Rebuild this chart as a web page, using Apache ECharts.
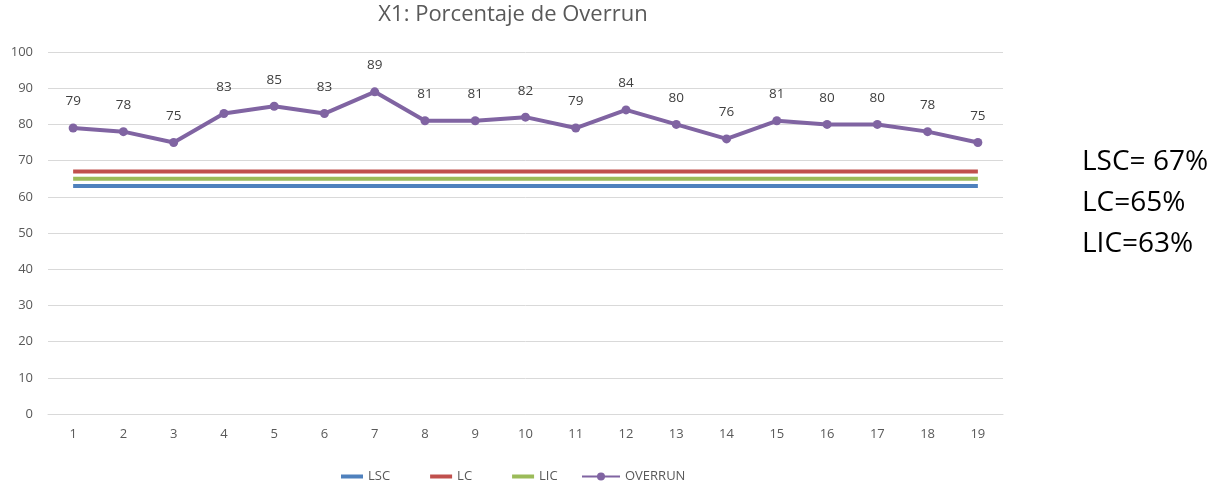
<!DOCTYPE html>
<html>
<head>
<meta charset="utf-8">
<script src="https://cdn.jsdelivr.net/npm/echarts@6/dist/echarts.min.js"></script>
<style>
  html, body { margin: 0; padding: 0; background: #fff; }
  #main { width: 1213px; height: 483px; }
</style>
</head>
<body>
<div id="main"></div>
<script>
const categories = ['1','2','3','4','5','6','7','8','9','10','11','12','13','14','15','16','17','18','19']
const overrun = [79, 78, 75, 83, 85, 83, 89, 81, 81, 82, 79, 84, 80, 76, 81, 80, 80, 78, 75]
const lscValue = 63
const lcValue = 67
const licValue = 65
const sideNotes = ['LSC= 67%', 'LC=65%', 'LIC=63%']

const flat = v => categories.map(() => v)

const chart = echarts.init(document.getElementById('main'))

const limitLine = (name, value, color) => ({
  name,
  type: 'line',
  data: flat(value),
  symbol: 'none',
  showSymbol: false,
  lineStyle: { width: 4, color },
  itemStyle: { color },
  z: 2,
})

const legendText = { fontSize: 13, color: '#595959' }

chart.setOption({
  animation: false,
  textStyle: { fontFamily: 'Open Sans, Calibri, sans-serif' },
  title: {
    text: 'X1: Porcentaje de Overrun',
    left: 508,
    top: -1,
    textAlign: 'center',
    textStyle: { fontSize: 22, fontWeight: 'normal', color: '#595959', fontFamily: 'Open Sans' },
  },
  grid: { left: 48, right: 210, top: 52, bottom: 69, containLabel: false },
  legend: [
    {
      top: 465,
      left: 336,
      itemWidth: 22,
      itemHeight: 4,
      itemGap: 40,
      textStyle: legendText,
      data: [
        { name: 'LSC', icon: 'rect', itemStyle: { color: '#4F81BD' } },
        { name: 'LC', icon: 'rect', itemStyle: { color: '#C0504D' } },
        { name: 'LIC', icon: 'rect', itemStyle: { color: '#9BBB59' } },
      ],
    },
    {
      top: 465,
      left: 576,
      itemWidth: 38,
      itemHeight: 10,
      textStyle: legendText,
      data: ['OVERRUN'],
    },
  ],
  xAxis: {
    type: 'category',
    data: categories,
    boundaryGap: true,
    axisLine: { lineStyle: { color: '#d9d9d9' } },
    axisTick: { show: false },
    axisLabel: { color: '#595959', fontSize: 13, margin: 14 },
  },
  yAxis: {
    type: 'value',
    min: 0,
    max: 100,
    interval: 10,
    axisLine: { show: false },
    axisTick: { show: false },
    axisLabel: { color: '#595959', fontSize: 13, margin: 15 },
    splitLine: { lineStyle: { color: '#d9d9d9' } },
  },
  graphic: sideNotes.map((t, i) => ({
    type: 'text',
    left: 1082,
    top: 148 + i * 41,
    style: { text: t, fontSize: 28, fill: '#000', fontFamily: 'Open Sans' },
  })),
  series: [
    limitLine('LSC', lscValue, '#4F81BD'),
    limitLine('LC', lcValue, '#C0504D'),
    limitLine('LIC', licValue, '#9BBB59'),
    {
      name: 'OVERRUN',
      type: 'line',
      data: overrun,
      symbol: 'circle',
      symbolSize: 9,
      lineStyle: { width: 4, color: '#8064A2' },
      itemStyle: { color: '#8064A2' },
      label: { show: true, position: 'top', distance: 15, color: '#404040', fontSize: 13.5 },
      z: 3,
    },
  ],
})
</script>
</body>
</html>
